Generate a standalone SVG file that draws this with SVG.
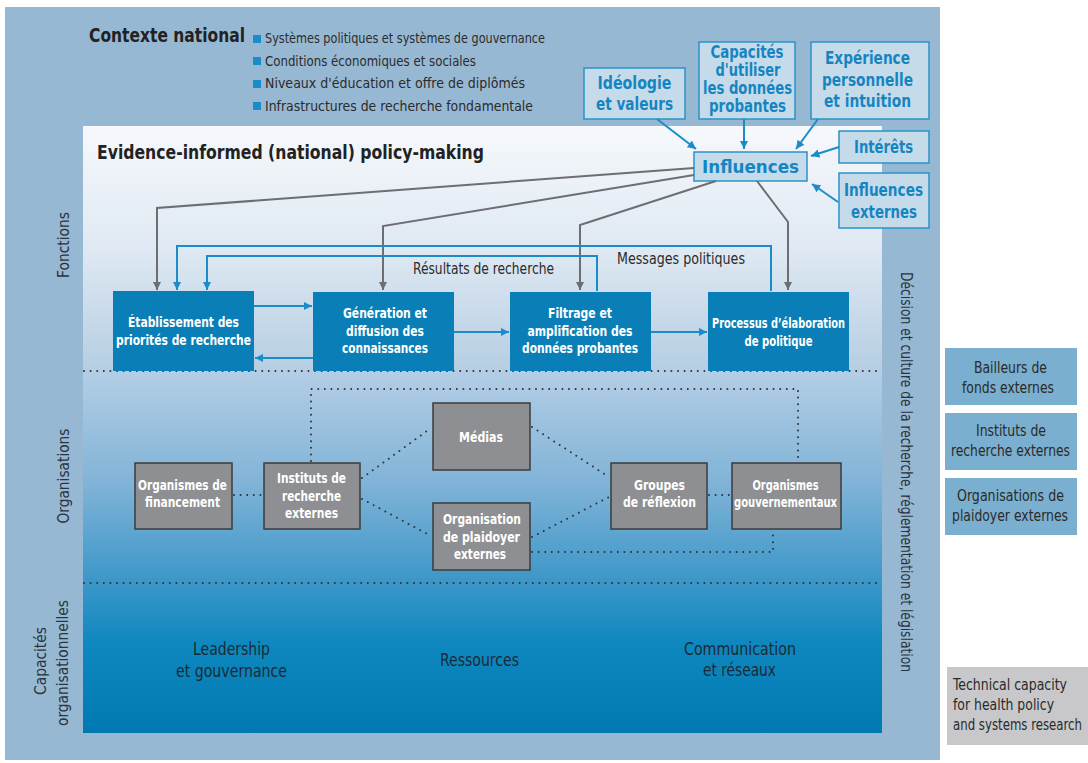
<svg xmlns="http://www.w3.org/2000/svg" width="1088" height="763" viewBox="0 0 1088 763">
  <defs>
    <linearGradient id="panelFill" gradientUnits="userSpaceOnUse" x1="0" y1="126" x2="0" y2="733">
      <stop offset="0" stop-color="#f6f8fb"/>
      <stop offset="0.2" stop-color="#dfe9f3"/>
      <stop offset="0.4" stop-color="#b6cee3"/>
      <stop offset="0.41" stop-color="#b2cde5"/>
      <stop offset="0.59" stop-color="#80b3d7"/>
      <stop offset="0.75" stop-color="#3c97c8"/>
      <stop offset="0.85" stop-color="#0f88bf"/>
      <stop offset="1" stop-color="#0078b1"/>
    </linearGradient>
    <marker id="arrowBlue" viewBox="0 0 10 10" refX="10" refY="5" markerWidth="4.2" markerHeight="4.2" markerUnits="strokeWidth" orient="auto">
      <path d="M0,0 L10,5 L0,10 z" fill="#1a8cc8"/>
    </marker>
    <marker id="arrowGray" viewBox="0 0 10 10" refX="10" refY="5" markerWidth="4.2" markerHeight="4.2" markerUnits="strokeWidth" orient="auto">
      <path d="M0,0 L10,5 L0,10 z" fill="#6d6e71"/>
    </marker>
    <style>
      text { font-family: "DejaVu Sans Condensed", "Liberation Sans", sans-serif; }
      .ctx { font-size: 14px; fill: #2b2b2b; }
      .infl-box { fill: #c6dbea; stroke: #2a93c9; stroke-width: 1.5; }
      .infl-txt { font-size: 17px; font-weight: bold; fill: #1585c2; text-anchor: middle; dominant-baseline: central; }
      .fn-box { fill: #0a7fb7; }
      .fn-txt { font-size: 13.5px; font-weight: bold; fill: #ffffff; text-anchor: middle; dominant-baseline: central; }
      .org-box { fill: #8e8f92; stroke: #3b3b3d; stroke-width: 1.5; }
      .org-txt { font-size: 13.5px; font-weight: bold; fill: #ffffff; text-anchor: middle; dominant-baseline: central; }
      .ext-box { fill: #7aafcf; }
      .ext-txt { font-size: 15px; fill: #2a2a2a; text-anchor: middle; dominant-baseline: central; }
      .side { font-size: 16px; fill: #2a3440; text-anchor: middle; dominant-baseline: central; }
      .cap { font-size: 17px; fill: #1c2a36; text-anchor: middle; dominant-baseline: central; }
      .flow-lbl { font-size: 15px; fill: #2b2b2b; text-anchor: middle; }
      .tech { font-size: 15px; fill: #2a2a2a; }
      .blue { fill: none; stroke: #1a8cc8; stroke-width: 2; }
      .gray { fill: none; stroke: #6d6e71; stroke-width: 2; }
      .dots { fill: none; stroke: #2f3237; stroke-width: 2; stroke-dasharray: 0 6.6; stroke-linecap: round; }
    </style>
  </defs>

  <!-- outer context frame -->
  <rect x="5" y="7" width="935" height="753" fill="#97b8d2"/>
  <!-- main panel -->
  <rect x="83" y="126" width="799" height="607" fill="url(#panelFill)"/>

  <!-- section separators -->
  <line class="dots" x1="84" y1="371" x2="882" y2="371"/>
  <line class="dots" x1="84" y1="583" x2="882" y2="583"/>

  <!-- national context header -->
  <g id="contexte">
    <text x="89" y="42" font-size="19.5" font-weight="bold" fill="#222" textLength="156" lengthAdjust="spacingAndGlyphs">Contexte national</text>
    <rect x="253" y="35" width="8" height="8" fill="#1a8cc8"/>
    <rect x="253" y="57" width="8" height="8" fill="#1a8cc8"/>
    <rect x="253" y="80" width="8" height="8" fill="#1a8cc8"/>
    <rect x="253" y="102" width="8" height="8" fill="#1a8cc8"/>
    <text class="ctx" x="265" y="43" textLength="280" lengthAdjust="spacingAndGlyphs">Systèmes politiques et systèmes de gouvernance</text>
    <text class="ctx" x="265" y="66" textLength="211" lengthAdjust="spacingAndGlyphs">Conditions économiques et sociales</text>
    <text class="ctx" x="265" y="88" textLength="260" lengthAdjust="spacingAndGlyphs">Niveaux d'éducation et offre de diplômés</text>
    <text class="ctx" x="265" y="111" textLength="268" lengthAdjust="spacingAndGlyphs">Infrastructures de recherche fondamentale</text>
  </g>

  <text x="97" y="159" font-size="19.5" font-weight="bold" fill="#222" textLength="387" lengthAdjust="spacingAndGlyphs">Evidence-informed (national) policy-making</text>

  <!-- side labels -->
  <text class="side" transform="translate(63,245) rotate(-90)" textLength="66" lengthAdjust="spacingAndGlyphs">Fonctions</text>
  <text class="side" transform="translate(63,476) rotate(-90)" textLength="95" lengthAdjust="spacingAndGlyphs">Organisations</text>
  <text class="side" transform="translate(40,661) rotate(-90)" textLength="68" lengthAdjust="spacingAndGlyphs">Capacités</text>
  <text class="side" transform="translate(62,663) rotate(-90)" textLength="126" lengthAdjust="spacingAndGlyphs">organisationnelles</text>
  <text class="side" transform="translate(906,472) rotate(90)" textLength="400" lengthAdjust="spacingAndGlyphs">Décision et culture de la recherche, réglementation et législation</text>

  <!-- influence factors -->
  <g id="ideologie">
    <rect class="infl-box" x="584" y="68" width="101" height="51"/>
    <text class="infl-txt" x="634.5" y="83" textLength="74" lengthAdjust="spacingAndGlyphs">Idéologie</text>
    <text class="infl-txt" x="634.5" y="104" textLength="77" lengthAdjust="spacingAndGlyphs">et valeurs</text>
  </g>
  <g id="capacites">
    <rect class="infl-box" x="699" y="42" width="96" height="77"/>
    <text class="infl-txt" x="747" y="52" textLength="73" lengthAdjust="spacingAndGlyphs">Capacités</text>
    <text class="infl-txt" x="748" y="70" textLength="65" lengthAdjust="spacingAndGlyphs">d'utiliser</text>
    <text class="infl-txt" x="747.5" y="88" textLength="89" lengthAdjust="spacingAndGlyphs">les données</text>
    <text class="infl-txt" x="747.5" y="106" textLength="77" lengthAdjust="spacingAndGlyphs">probantes</text>
  </g>
  <g id="experience">
    <rect class="infl-box" x="811" y="42" width="118" height="77"/>
    <text class="infl-txt" x="867.5" y="58" textLength="85" lengthAdjust="spacingAndGlyphs">Expérience</text>
    <text class="infl-txt" x="867.5" y="80" textLength="91" lengthAdjust="spacingAndGlyphs">personnelle</text>
    <text class="infl-txt" x="867.5" y="101" textLength="87" lengthAdjust="spacingAndGlyphs">et intuition</text>
  </g>
  <g id="interets">
    <rect class="infl-box" x="839" y="131" width="90" height="32"/>
    <text class="infl-txt" x="883.5" y="147" textLength="59" lengthAdjust="spacingAndGlyphs">Intérêts</text>
  </g>
  <g id="influences-externes">
    <rect class="infl-box" x="839" y="173" width="90" height="55"/>
    <text class="infl-txt" x="883.5" y="190" textLength="79" lengthAdjust="spacingAndGlyphs">Influences</text>
    <text class="infl-txt" x="884" y="212" textLength="66" lengthAdjust="spacingAndGlyphs">externes</text>
  </g>
  <g id="influences">
    <rect class="infl-box" x="694" y="152" width="113" height="29"/>
    <text class="infl-txt" x="750.5" y="166.5" font-size="22" textLength="97" lengthAdjust="spacingAndGlyphs">Influences</text>
  </g>

  <!-- functions -->
  <g id="etablissement">
    <rect class="fn-box" x="113" y="291" width="141" height="80"/>
    <text class="fn-txt" x="183.5" y="322" textLength="111" lengthAdjust="spacingAndGlyphs">Établissement des</text>
    <text class="fn-txt" x="183.5" y="340" textLength="135" lengthAdjust="spacingAndGlyphs">priorités de recherche</text>
  </g>
  <g id="generation">
    <rect class="fn-box" x="313" y="292" width="141" height="79"/>
    <text class="fn-txt" x="385" y="313" textLength="84" lengthAdjust="spacingAndGlyphs">Génération et</text>
    <text class="fn-txt" x="385" y="331" textLength="78" lengthAdjust="spacingAndGlyphs">diffusion des</text>
    <text class="fn-txt" x="385" y="348" textLength="86" lengthAdjust="spacingAndGlyphs">connaissances</text>
  </g>
  <g id="filtrage">
    <rect class="fn-box" x="510" y="292" width="141" height="79"/>
    <text class="fn-txt" x="580" y="313" textLength="64" lengthAdjust="spacingAndGlyphs">Filtrage et</text>
    <text class="fn-txt" x="580" y="331" textLength="105" lengthAdjust="spacingAndGlyphs">amplification des</text>
    <text class="fn-txt" x="580" y="348" textLength="116" lengthAdjust="spacingAndGlyphs">données probantes</text>
  </g>
  <g id="processus">
    <rect class="fn-box" x="708" y="292" width="141" height="79"/>
    <text class="fn-txt" x="778.5" y="323" textLength="133" lengthAdjust="spacingAndGlyphs">Processus d’élaboration</text>
    <text class="fn-txt" x="778.5" y="341" textLength="68" lengthAdjust="spacingAndGlyphs">de politique</text>
  </g>

  <!-- organisations -->
  <g id="financement">
    <rect class="org-box" x="135" y="463" width="97" height="66"/>
    <text class="org-txt" x="182.5" y="485" textLength="89" lengthAdjust="spacingAndGlyphs">Organismes de</text>
    <text class="org-txt" x="182.5" y="502" textLength="75" lengthAdjust="spacingAndGlyphs">financement</text>
  </g>
  <g id="instituts">
    <rect class="org-box" x="264" y="463" width="96" height="66"/>
    <text class="org-txt" x="311.5" y="478" textLength="69" lengthAdjust="spacingAndGlyphs">Instituts de</text>
    <text class="org-txt" x="311.5" y="496" textLength="59" lengthAdjust="spacingAndGlyphs">recherche</text>
    <text class="org-txt" x="311.5" y="513" textLength="53" lengthAdjust="spacingAndGlyphs">externes</text>
  </g>
  <g id="medias">
    <rect class="org-box" x="433" y="403" width="97" height="67"/>
    <text class="org-txt" x="481" y="437" textLength="44" lengthAdjust="spacingAndGlyphs">Médias</text>
  </g>
  <g id="plaidoyer">
    <rect class="org-box" x="433" y="503" width="97" height="67"/>
    <text class="org-txt" x="482" y="519" textLength="78" lengthAdjust="spacingAndGlyphs">Organisation</text>
    <text class="org-txt" x="481.5" y="537" textLength="77" lengthAdjust="spacingAndGlyphs">de plaidoyer</text>
    <text class="org-txt" x="480" y="554" textLength="52" lengthAdjust="spacingAndGlyphs">externes</text>
  </g>
  <g id="groupes">
    <rect class="org-box" x="611" y="463" width="96" height="66"/>
    <text class="org-txt" x="659.5" y="485" textLength="51" lengthAdjust="spacingAndGlyphs">Groupes</text>
    <text class="org-txt" x="659.5" y="502" textLength="73" lengthAdjust="spacingAndGlyphs">de réflexion</text>
  </g>
  <g id="gouvernementaux">
    <rect class="org-box" x="732" y="463" width="109" height="66"/>
    <text class="org-txt" x="785.5" y="485" textLength="66" lengthAdjust="spacingAndGlyphs">Organismes</text>
    <text class="org-txt" x="785.5" y="502" textLength="103" lengthAdjust="spacingAndGlyphs">gouvernementaux</text>
  </g>

  <!-- organisational capacities -->
  <g id="capacites-org">
    <text class="cap" x="231.5" y="649" textLength="77" lengthAdjust="spacingAndGlyphs">Leadership</text>
    <text class="cap" x="231.5" y="671" textLength="111" lengthAdjust="spacingAndGlyphs">et gouvernance</text>
    <text class="cap" x="479.5" y="660" textLength="79" lengthAdjust="spacingAndGlyphs">Ressources</text>
    <text class="cap" x="740" y="649" textLength="112" lengthAdjust="spacingAndGlyphs">Communication</text>
    <text class="cap" x="739.5" y="670" textLength="73" lengthAdjust="spacingAndGlyphs">et réseaux</text>
  </g>

  <!-- external actors -->
  <g id="bailleurs">
    <rect class="ext-box" x="945" y="348" width="132" height="57"/>
    <text class="ext-txt" x="1010.5" y="368" textLength="73" lengthAdjust="spacingAndGlyphs">Bailleurs de</text>
    <text class="ext-txt" x="1008" y="388" textLength="92" lengthAdjust="spacingAndGlyphs">fonds externes</text>
  </g>
  <g id="instituts-ext">
    <rect class="ext-box" x="945" y="413" width="132" height="57"/>
    <text class="ext-txt" x="1011" y="431" textLength="70" lengthAdjust="spacingAndGlyphs">Instituts de</text>
    <text class="ext-txt" x="1010.5" y="451" textLength="119" lengthAdjust="spacingAndGlyphs">recherche externes</text>
  </g>
  <g id="plaidoyer-ext">
    <rect class="ext-box" x="945" y="478" width="132" height="57"/>
    <text class="ext-txt" x="1010.5" y="496" textLength="107" lengthAdjust="spacingAndGlyphs">Organisations de</text>
    <text class="ext-txt" x="1010" y="516" textLength="116" lengthAdjust="spacingAndGlyphs">plaidoyer externes</text>
  </g>
  <g id="technical">
    <rect x="947" y="667" width="141" height="78" fill="#c8c8ca"/>
    <text class="tech" x="953" y="690" textLength="114" lengthAdjust="spacingAndGlyphs">Technical capacity</text>
    <text class="tech" x="953" y="710" textLength="101" lengthAdjust="spacingAndGlyphs">for health policy</text>
    <text class="tech" x="953" y="730" textLength="129" lengthAdjust="spacingAndGlyphs">and systems research</text>
  </g>

  <!-- connectors -->
  <g id="connectors">
    <!-- into Influences -->
    <line class="blue" x1="657" y1="119" x2="696" y2="149" marker-end="url(#arrowBlue)"/>
    <line class="blue" x1="744" y1="119" x2="744" y2="149" marker-end="url(#arrowBlue)"/>
    <line class="blue" x1="818" y1="119" x2="796" y2="149" marker-end="url(#arrowBlue)"/>
    <line class="blue" x1="839" y1="147" x2="811" y2="156" marker-end="url(#arrowBlue)"/>
    <line class="blue" x1="838" y1="202" x2="812" y2="184" marker-end="url(#arrowBlue)"/>

    <!-- from Influences to the functions -->
    <polyline class="gray" points="694,168 157,208 157,290" marker-end="url(#arrowGray)"/>
    <polyline class="gray" points="694,175 383,226 383,290" marker-end="url(#arrowGray)"/>
    <polyline class="gray" points="716,181 580,225 580,290" marker-end="url(#arrowGray)"/>
    <polyline class="gray" points="757,181 788,222 788,290" marker-end="url(#arrowGray)"/>

    <!-- feedback loops -->
    <polyline class="blue" points="771,291 771,246 177,246 177,290" marker-end="url(#arrowBlue)"/>
    <polyline class="blue" points="597,291 597,256 207,256 207,290" marker-end="url(#arrowBlue)"/>
    <text class="flow-lbl" x="483.5" y="274" textLength="141" lengthAdjust="spacingAndGlyphs">Résultats de recherche</text>
    <text class="flow-lbl" x="681" y="264" textLength="128" lengthAdjust="spacingAndGlyphs">Messages politiques</text>

    <!-- between functions -->
    <line class="blue" x1="254" y1="306" x2="312" y2="306" marker-end="url(#arrowBlue)"/>
    <line class="blue" x1="313" y1="358" x2="255" y2="358" marker-end="url(#arrowBlue)"/>
    <line class="blue" x1="454" y1="332" x2="509" y2="332" marker-end="url(#arrowBlue)"/>
    <line class="blue" x1="651" y1="332" x2="707" y2="332" marker-end="url(#arrowBlue)"/>

    <!-- organisation links -->
    <line class="dots" x1="234" y1="495" x2="262" y2="495"/>
    <polyline class="dots" points="311,461 311,389 798,389 798,461"/>
    <line class="dots" x1="362" y1="478" x2="431" y2="428"/>
    <line class="dots" x1="362" y1="499" x2="431" y2="536"/>
    <line class="dots" x1="532" y1="427" x2="609" y2="477"/>
    <line class="dots" x1="532" y1="537" x2="609" y2="497"/>
    <line class="dots" x1="709" y1="495" x2="730" y2="495"/>
    <polyline class="dots" points="532,552 773,552 773,531"/>
  </g>
</svg>
